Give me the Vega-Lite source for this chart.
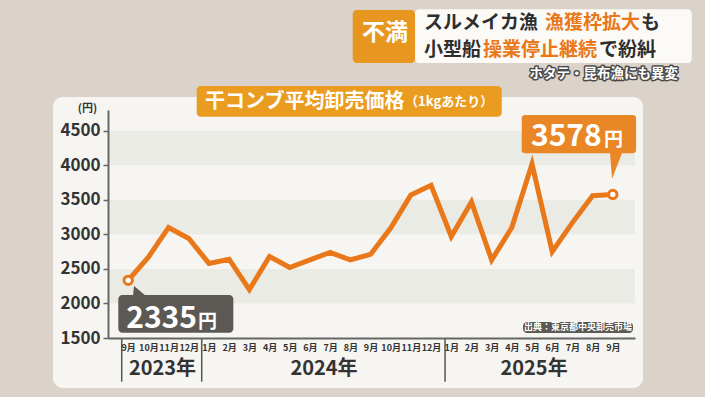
{
  "$schema": "https://vega.github.io/schema/vega-lite/v6.json",
  "width": 527,
  "height": 228,
  "autosize": {"type": "none"},
  "padding": {"left": 108, "top": 110, "right": 70, "bottom": 59},
  "background": "#dbd3c9",
  "config": {"view": {"stroke": null}, "text": {"font": "Noto Sans CJK JP"}, "axis": {"labelOverlap": false}},
  "resolve": {"axis": {"x": "independent", "y": "independent"}},
  "datasets": {
    "prices": [
      {"i": 0, "month": "2023-09", "price": 2335},
      {"i": 1, "month": "2023-10", "price": 2670},
      {"i": 2, "month": "2023-11", "price": 3100},
      {"i": 3, "month": "2023-12", "price": 2940},
      {"i": 4, "month": "2024-01", "price": 2580},
      {"i": 5, "month": "2024-02", "price": 2640},
      {"i": 6, "month": "2024-03", "price": 2200},
      {"i": 7, "month": "2024-04", "price": 2680},
      {"i": 8, "month": "2024-05", "price": 2520},
      {"i": 9, "month": "2024-06", "price": 2630},
      {"i": 10, "month": "2024-07", "price": 2740},
      {"i": 11, "month": "2024-08", "price": 2630},
      {"i": 12, "month": "2024-09", "price": 2710},
      {"i": 13, "month": "2024-10", "price": 3090},
      {"i": 14, "month": "2024-11", "price": 3570},
      {"i": 15, "month": "2024-12", "price": 3710},
      {"i": 16, "month": "2025-01", "price": 2970},
      {"i": 17, "month": "2025-02", "price": 3470},
      {"i": 18, "month": "2025-03", "price": 2630},
      {"i": 19, "month": "2025-04", "price": 3100},
      {"i": 20, "month": "2025-05", "price": 4020},
      {"i": 21, "month": "2025-06", "price": 2750},
      {"i": 22, "month": "2025-07", "price": 3170},
      {"i": 23, "month": "2025-08", "price": 3560},
      {"i": 24, "month": "2025-09", "price": 3578}
    ],
    "panel": [{"x1": -3.724, "x2": 25.498, "y1": 776, "y2": 4988}],
    "bands": [{"lo": 2000, "hi": 2500}, {"lo": 3000, "hi": 3500}, {"lo": 4000, "hi": 4500}],
    "titlebox": [{"x1": 3.393, "x2": 18.5, "y1": 4703, "y2": 5147}],
    "tagbox": [{"x1": 11.12, "x2": 14.206, "y1": 5480, "y2": 6247}],
    "headbox": [{"x1": 14.206, "x2": 27.91, "y1": 5480, "y2": 6258}],
    "grayboxes": [{"x1": -0.49, "x2": 5.206, "y1": 1577, "y2": 2122}, {"x1": 19.555, "x2": 25.003, "y1": 1572, "y2": 1732}],
    "orangebox": [{"x1": 19.49, "x2": 25.152, "y1": 4173, "y2": 4728}],
    "ptrDark": [{"x": 0.535, "y": 2180}],
    "ptrOrange": [{"x": 24.161, "y": 3990}],
    "seps": [{"x": -0.321}, {"x": 3.641}, {"x": 15.692}],
    "years": [{"t": "2023年", "x": 1.699, "y": 1051}, {"t": "2024年", "x": 9.698, "y": 1051}, {"t": "2025年", "x": 20.099, "y": 1051}],
    "headDark": [{"t": "スルメイカ漁", "x": 14.651, "y": 6066}, {"t": "も", "x": 25.399, "y": 6066}, {"t": "小型船", "x": 14.651, "y": 5669}, {"t": "で紛糾", "x": 23.319, "y": 5669}],
    "headOrange": [{"t": "漁獲枠拡大", "x": 20.644, "y": 6066}, {"t": "操業停止継続", "x": 17.573, "y": 5669}],
    "tag": [{"t": "不満", "x": 12.72, "y": 5915}],
    "subhead": [{"t": "ホタテ・昆布漁にも異変", "x": 27.231, "y": 5321}],
    "titleMain": [{"t": "干コンブ平均卸売価格", "x": 3.804, "y": 4920}],
    "titleSub": [{"t": "（1kgあたり）", "x": 13.71, "y": 4920}],
    "nums": [{"t": "2335", "x": 3.408, "y": 1649}, {"t": "3578", "x": 23.453, "y": 4279}],
    "yen": [{"t": "円", "x": 3.458, "y": 1649}, {"t": "円", "x": 23.567, "y": 4279}],
    "source": [{"t": "出典：東京都中央卸売市場", "x": 22.279, "y": 1652}]
  },
  "layer": [
    {
      "data": {"name": "panel"},
      "mark": {"type": "rect", "fill": "#f6f5f1", "cornerRadius": 10},
      "encoding": {
        "x": {
          "field": "x1", "type": "quantitative",
          "scale": {"domain": [-1, 25.1], "nice": false, "zero": false},
          "axis": {
            "orient": "bottom", "zindex": 1,
            "values": [0,1,2,3,4,5,6,7,8,9,10,11,12,13,14,15,16,17,18,19,20,21,22,23,24],
            "labelExpr": "((datum.value + 8) % 12 + 1) + '月'",
            "title": null, "grid": false, "ticks": false,
            "domainColor": "#666666", "domainWidth": 2,
            "labelFont": "Noto Sans CJK JP", "labelFontSize": 9, "labelFontWeight": "bold", "labelColor": "#333333",
            "labelPadding": 5, "labelOverlap": false, "labelFlush": false, "labelBound": false
          }
        },
        "x2": {"field": "x2"},
        "y": {
          "field": "y1", "type": "quantitative",
          "scale": {"domain": [1500, 4800], "nice": false, "zero": false},
          "axis": {
            "orient": "left", "zindex": 1, "format": "d",
            "values": [1500, 2000, 2500, 3000, 3500, 4000, 4500],
            "title": "(円)", "titleAngle": 0, "titleX": -21, "titleY": -2, "titleAlign": "center", "titleBaseline": "middle",
            "titleFont": "Noto Sans CJK JP", "titleFontSize": 11, "titleFontWeight": "bold", "titleColor": "#333333",
            "grid": false, "tickSize": 5, "tickColor": "#666666", "tickWidth": 1.5,
            "domainColor": "#666666", "domainWidth": 2,
            "labelFont": "Noto Sans CJK JP", "labelFontSize": 17, "labelFontWeight": "bold", "labelColor": "#333333", "labelPadding": 3,
            "labelOverlap": false, "labelFlush": false
          }
        },
        "y2": {"field": "y2"}
      }
    },
    {
      "data": {"name": "bands"},
      "mark": {"type": "rect", "fill": "#ebebe5"},
      "encoding": {
        "y": {"field": "lo", "type": "quantitative", "scale": {"domain": [1500, 4800], "nice": false, "zero": false}, "axis": null},
        "y2": {"field": "hi"}
      }
    },
    {
      "data": {"name": "titlebox"},
      "mark": {"type": "rect", "fill": "#e99c20", "cornerRadius": 4},
      "encoding": {
        "x": {"field": "x1", "type": "quantitative", "scale": {"domain": [-1, 25.1], "nice": false, "zero": false}, "axis": null},
        "x2": {"field": "x2"},
        "y": {"field": "y1", "type": "quantitative", "scale": {"domain": [1500, 4800], "nice": false, "zero": false}, "axis": null},
        "y2": {"field": "y2"}
      }
    },
    {
      "data": {"name": "headbox"},
      "mark": {"type": "rect", "fill": "#fbfaf6", "cornerRadius": 4},
      "encoding": {
        "x": {"field": "x1", "type": "quantitative", "scale": {"domain": [-1, 25.1], "nice": false, "zero": false}, "axis": null},
        "x2": {"field": "x2"},
        "y": {"field": "y1", "type": "quantitative", "scale": {"domain": [1500, 4800], "nice": false, "zero": false}, "axis": null},
        "y2": {"field": "y2"}
      }
    },
    {
      "data": {"name": "tagbox"},
      "mark": {"type": "rect", "fill": "#e7961f", "cornerRadius": 4},
      "encoding": {
        "x": {"field": "x1", "type": "quantitative", "scale": {"domain": [-1, 25.1], "nice": false, "zero": false}, "axis": null},
        "x2": {"field": "x2"},
        "y": {"field": "y1", "type": "quantitative", "scale": {"domain": [1500, 4800], "nice": false, "zero": false}, "axis": null},
        "y2": {"field": "y2"}
      }
    },
    {
      "data": {"name": "seps"},
      "mark": {"type": "rule", "color": "#555555", "strokeWidth": 1.5},
      "encoding": {
        "x": {"field": "x", "type": "quantitative", "scale": {"domain": [-1, 25.1], "nice": false, "zero": false}, "axis": null},
        "y": {"datum": 1500, "type": "quantitative", "scale": {"domain": [1500, 4800], "nice": false, "zero": false}, "axis": null},
        "y2": {"datum": 867}
      }
    },
    {
      "data": {"name": "prices"},
      "mark": {"type": "line", "color": "#e8781a", "strokeWidth": 5, "strokeJoin": "miter"},
      "encoding": {
        "x": {"field": "i", "type": "quantitative", "scale": {"domain": [-1, 25.1], "nice": false, "zero": false}, "axis": null},
        "y": {"field": "price", "type": "quantitative", "scale": {"domain": [1500, 4800], "nice": false, "zero": false}, "axis": null}
      }
    },
    {
      "data": {"name": "prices"},
      "transform": [{"filter": "datum.i == 0 || datum.i == 24"}],
      "mark": {"type": "point", "filled": true, "fill": "#ffffff", "stroke": "#e8781a", "strokeWidth": 3, "size": 70, "opacity": 1},
      "encoding": {
        "x": {"field": "i", "type": "quantitative", "scale": {"domain": [-1, 25.1], "nice": false, "zero": false}, "axis": null},
        "y": {"field": "price", "type": "quantitative", "scale": {"domain": [1500, 4800], "nice": false, "zero": false}, "axis": null}
      }
    },
    {
      "data": {"name": "grayboxes"},
      "mark": {"type": "rect", "fill": "#5c5954", "cornerRadius": 4},
      "encoding": {
        "x": {"field": "x1", "type": "quantitative", "scale": {"domain": [-1, 25.1], "nice": false, "zero": false}, "axis": null},
        "x2": {"field": "x2"},
        "y": {"field": "y1", "type": "quantitative", "scale": {"domain": [1500, 4800], "nice": false, "zero": false}, "axis": null},
        "y2": {"field": "y2"}
      }
    },
    {
      "data": {"name": "orangebox"},
      "mark": {"type": "rect", "fill": "#e98626", "cornerRadius": 3},
      "encoding": {
        "x": {"field": "x1", "type": "quantitative", "scale": {"domain": [-1, 25.1], "nice": false, "zero": false}, "axis": null},
        "x2": {"field": "x2"},
        "y": {"field": "y1", "type": "quantitative", "scale": {"domain": [1500, 4800], "nice": false, "zero": false}, "axis": null},
        "y2": {"field": "y2"}
      }
    },
    {
      "data": {"name": "ptrDark"},
      "mark": {"type": "point", "shape": "M-0.86,0.71L1,0.71L-0.71,-0.71Z", "filled": true, "color": "#5c5954", "size": 196, "opacity": 1},
      "encoding": {
        "x": {"field": "x", "type": "quantitative", "scale": {"domain": [-1, 25.1], "nice": false, "zero": false}, "axis": null},
        "y": {"field": "y", "type": "quantitative", "scale": {"domain": [1500, 4800], "nice": false, "zero": false}, "axis": null}
      }
    },
    {
      "data": {"name": "ptrOrange"},
      "mark": {"type": "point", "shape": "M-0.46,-1L0.46,-1L-0.31,1Z", "filled": true, "color": "#e98626", "size": 676, "opacity": 1},
      "encoding": {
        "x": {"field": "x", "type": "quantitative", "scale": {"domain": [-1, 25.1], "nice": false, "zero": false}, "axis": null},
        "y": {"field": "y", "type": "quantitative", "scale": {"domain": [1500, 4800], "nice": false, "zero": false}, "axis": null}
      }
    },
    {
      "data": {"name": "years"},
      "mark": {"type": "text", "fontSize": 20, "fontWeight": "bold", "color": "#333333", "align": "center", "baseline": "middle"},
      "encoding": {
        "text": {"field": "t"},
        "x": {"field": "x", "type": "quantitative", "scale": {"domain": [-1, 25.1], "nice": false, "zero": false}, "axis": null},
        "y": {"field": "y", "type": "quantitative", "scale": {"domain": [1500, 4800], "nice": false, "zero": false}, "axis": null}
      }
    },
    {
      "data": {"name": "headDark"},
      "mark": {"type": "text", "fontSize": 19, "fontWeight": "bold", "color": "#2e2e2e", "align": "left", "baseline": "middle"},
      "encoding": {
        "text": {"field": "t"},
        "x": {"field": "x", "type": "quantitative", "scale": {"domain": [-1, 25.1], "nice": false, "zero": false}, "axis": null},
        "y": {"field": "y", "type": "quantitative", "scale": {"domain": [1500, 4800], "nice": false, "zero": false}, "axis": null}
      }
    },
    {
      "data": {"name": "headOrange"},
      "mark": {"type": "text", "fontSize": 19, "fontWeight": "bold", "color": "#e8781a", "align": "left", "baseline": "middle"},
      "encoding": {
        "text": {"field": "t"},
        "x": {"field": "x", "type": "quantitative", "scale": {"domain": [-1, 25.1], "nice": false, "zero": false}, "axis": null},
        "y": {"field": "y", "type": "quantitative", "scale": {"domain": [1500, 4800], "nice": false, "zero": false}, "axis": null}
      }
    },
    {
      "data": {"name": "tag"},
      "mark": {"type": "text", "fontSize": 23, "fontWeight": "bold", "color": "#ffffff", "align": "center", "baseline": "middle"},
      "encoding": {
        "text": {"field": "t"},
        "x": {"field": "x", "type": "quantitative", "scale": {"domain": [-1, 25.1], "nice": false, "zero": false}, "axis": null},
        "y": {"field": "y", "type": "quantitative", "scale": {"domain": [1500, 4800], "nice": false, "zero": false}, "axis": null}
      }
    },
    {
      "data": {"name": "subhead"},
      "mark": {"type": "text", "fontSize": 13.5, "fontWeight": "bold", "fill": "#4a4a4a", "stroke": "#4a4a4a", "strokeWidth": 3, "strokeJoin": "round", "align": "right", "baseline": "middle"},
      "encoding": {
        "text": {"field": "t"},
        "x": {"field": "x", "type": "quantitative", "scale": {"domain": [-1, 25.1], "nice": false, "zero": false}, "axis": null},
        "y": {"field": "y", "type": "quantitative", "scale": {"domain": [1500, 4800], "nice": false, "zero": false}, "axis": null}
      }
    },
    {
      "data": {"name": "subhead"},
      "mark": {"type": "text", "fontSize": 13.5, "fontWeight": "bold", "color": "#ffffff", "align": "right", "baseline": "middle"},
      "encoding": {
        "text": {"field": "t"},
        "x": {"field": "x", "type": "quantitative", "scale": {"domain": [-1, 25.1], "nice": false, "zero": false}, "axis": null},
        "y": {"field": "y", "type": "quantitative", "scale": {"domain": [1500, 4800], "nice": false, "zero": false}, "axis": null}
      }
    },
    {
      "data": {"name": "titleMain"},
      "mark": {"type": "text", "fontSize": 20, "fontWeight": "bold", "color": "#ffffff", "align": "left", "baseline": "middle"},
      "encoding": {
        "text": {"field": "t"},
        "x": {"field": "x", "type": "quantitative", "scale": {"domain": [-1, 25.1], "nice": false, "zero": false}, "axis": null},
        "y": {"field": "y", "type": "quantitative", "scale": {"domain": [1500, 4800], "nice": false, "zero": false}, "axis": null}
      }
    },
    {
      "data": {"name": "titleSub"},
      "mark": {"type": "text", "fontSize": 13, "fontWeight": "bold", "color": "#ffffff", "align": "left", "baseline": "middle"},
      "encoding": {
        "text": {"field": "t"},
        "x": {"field": "x", "type": "quantitative", "scale": {"domain": [-1, 25.1], "nice": false, "zero": false}, "axis": null},
        "y": {"field": "y", "type": "quantitative", "scale": {"domain": [1500, 4800], "nice": false, "zero": false}, "axis": null}
      }
    },
    {
      "data": {"name": "nums"},
      "mark": {"type": "text", "fontSize": 30, "fontWeight": "bold", "color": "#ffffff", "align": "right", "baseline": "alphabetic"},
      "encoding": {
        "text": {"field": "t"},
        "x": {"field": "x", "type": "quantitative", "scale": {"domain": [-1, 25.1], "nice": false, "zero": false}, "axis": null},
        "y": {"field": "y", "type": "quantitative", "scale": {"domain": [1500, 4800], "nice": false, "zero": false}, "axis": null}
      }
    },
    {
      "data": {"name": "yen"},
      "mark": {"type": "text", "fontSize": 19, "fontWeight": "bold", "color": "#ffffff", "align": "left", "baseline": "alphabetic"},
      "encoding": {
        "text": {"field": "t"},
        "x": {"field": "x", "type": "quantitative", "scale": {"domain": [-1, 25.1], "nice": false, "zero": false}, "axis": null},
        "y": {"field": "y", "type": "quantitative", "scale": {"domain": [1500, 4800], "nice": false, "zero": false}, "axis": null}
      }
    },
    {
      "data": {"name": "source"},
      "mark": {"type": "text", "fontSize": 9, "fontWeight": "bold", "color": "#ffffff", "align": "center", "baseline": "middle"},
      "encoding": {
        "text": {"field": "t"},
        "x": {"field": "x", "type": "quantitative", "scale": {"domain": [-1, 25.1], "nice": false, "zero": false}, "axis": null},
        "y": {"field": "y", "type": "quantitative", "scale": {"domain": [1500, 4800], "nice": false, "zero": false}, "axis": null}
      }
    }
  ]
}
